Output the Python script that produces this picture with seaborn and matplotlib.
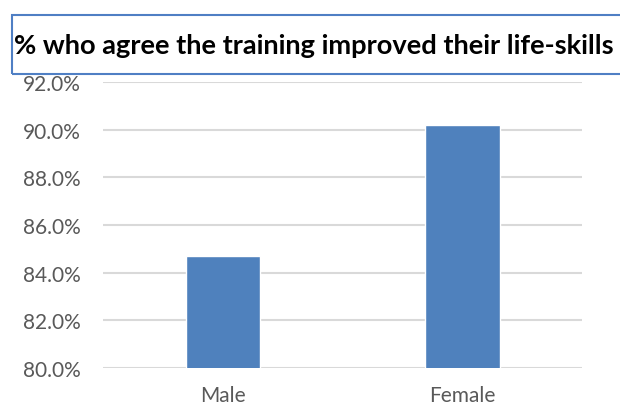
import seaborn as sns
import matplotlib.pyplot as plt
import pandas as pd
from matplotlib.ticker import PercentFormatter
from matplotlib.patches import Rectangle

# Data
groups = ['Male', 'Female']
agree_pct = [84.7, 90.2]
y_ticks = [80, 82, 84, 86, 88, 90, 92]

df = pd.DataFrame({'Group': groups, 'Agree': agree_pct})

sns.set_style('white')
plt.rcParams['font.family'] = ['Lato', 'DejaVu Sans']

fig = plt.figure(figsize=(6.2, 4.1), dpi=100)
ax = fig.add_axes([0.166, 0.1, 0.773, 0.698])

sns.barplot(data=df, x='Group', y='Agree', color='#4F81BD', width=0.31,
            saturation=1, ax=ax, zorder=3)

ax.set_ylim(80, 92)
ax.set_yticks(y_ticks)
ax.yaxis.set_major_formatter(PercentFormatter(decimals=1))
ax.grid(axis='y', color='#D9D9D9', linewidth=1.5, zorder=0)
ax.set_axisbelow(True)
sns.despine(ax=ax, left=True, bottom=True, top=True, right=True)
ax.tick_params(axis='both', length=0, labelsize=15, labelcolor='#595959')
ax.tick_params(axis='y', pad=16)
ax.tick_params(axis='x', pad=12)
ax.set_xlabel('')
ax.set_ylabel('')

# Title in a blue-outlined box
fig.patches.append(Rectangle((12 / 620, 1 - 75 / 410), 0.99, 59 / 410,
                             transform=fig.transFigure, fill=False,
                             edgecolor='#4F7FC4', linewidth=1.5))
fig.text(14 / 620, 1 - 46 / 410, '% who agree the training improved their life-skills',
         fontsize=19.6, fontweight='bold', color='black', va='center', ha='left')

fig.savefig('out.png', dpi=100)
